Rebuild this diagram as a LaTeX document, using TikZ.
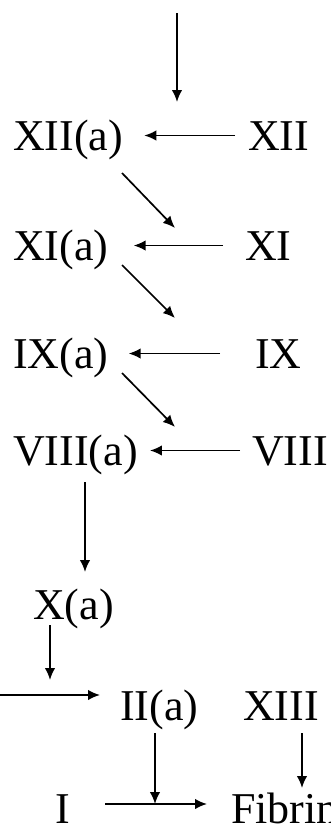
\documentclass[tikz,border=0pt]{standalone}
\usepackage{fontspec}
\setmainfont{Liberation Serif}
\usetikzlibrary{arrows.meta,positioning,calc}

\begin{document}
\begin{tikzpicture}[
    x=1pt, y=-1pt,
    factor/.style={anchor=base west, inner sep=0pt, text height=29pt, text depth=0pt, font=\fontsize{44}{48}\selectfont},
    arr/.style={line width=1.7pt, -{Latex[length=12pt,width=10.5pt]}}
]
\useasboundingbox (0,0) rectangle (331,825);

% factors, left column active, right column inactive
\node[factor] (xiia) at (13,150) {XII(a)};
\node[factor] (xii) at (248,150) {XII};
\node[factor] (xia) at (13,260) {XI(a)};
\node[factor] (xi) at (245,260) {XI};
\node[factor] (ixa) at (13,368) {IX(a)};
\node[factor] (ix) at (255,368) {IX};
\node[factor] (viiia) at (13,465) {VIII(a)};
\node[factor] (viii) at (252,465) {VIII};
\node[factor] (xa) at (33,619) {X(a)};
\node[factor] (iia) at (120,720) {II(a)};
\node[factor] (xiii) at (243,720) {XIII};
\node[factor] (fi) at (55,823) {I};
\node[factor] (fibrin) at (231,823) {Fibrin};

% free ends
\coordinate (start) at (177,13);
\coordinate (d1) at (122,173);
\coordinate (d2) at (122,265);
\coordinate (d3) at (122,373);
\coordinate (left) at (-5,695);
\coordinate (join) at (155,804);

\draw[arr] (start) -- (177,102);
\draw[arr, shorten <=13pt, shorten >=21pt] (xii) -- (xiia);
\draw[arr] (d1) -- (175,228);
\draw[arr, shorten <=22pt, shorten >=25pt] (xi) -- (xia);
\draw[arr] (d2) -- (175,318);
\draw[arr, shorten <=35pt, shorten >=20pt] (ix) -- (ixa);
\draw[arr] (d3) -- (175,427);
\draw[arr, shorten <=12pt, shorten >=12pt] (viii) -- (viiia);

\draw[arr] (viiia.south -| 85,0) ++(0,17) -- (85,572);
\draw[arr] (50,625) -- (50,680);
\draw[arr] (left) -- (100,695);
\draw[arr] (155,733) -- (join);
\draw[arr] (302,733) -- (302,788);
\draw[arr, shorten <=35pt, shorten >=24pt] (fi.east |- join) -- (fibrin.west |- join);

\end{tikzpicture}
\end{document}
